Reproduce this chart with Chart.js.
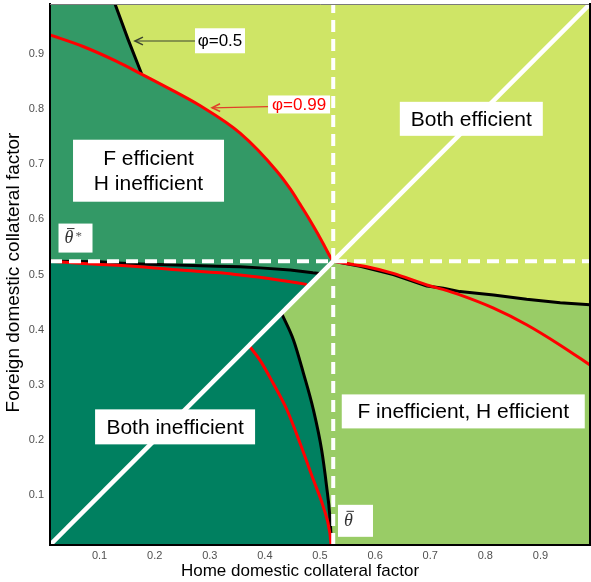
<!DOCTYPE html>
<html>
<head>
<meta charset="utf-8">
<script src="https://cdn.jsdelivr.net/npm/chart.js@4.4.0/dist/chart.umd.min.js"></script>
<style>
  html, body { margin: 0; padding: 0; background: #ffffff; }
  #wrap { width: 591px; height: 582px; }
</style>
</head>
<body>
<div id="wrap"><canvas id="chart" width="591" height="582"></canvas></div>
<script>
// Axis extent and the threshold collateral factor
const AXIS_MIN = 0.01;
const AXIS_MAX = 0.99;
const thetaBar = 0.524;

const xTickValues = [0.1, 0.2, 0.3, 0.4, 0.5, 0.6, 0.7, 0.8, 0.9];
const xTickLabels = ['0.1', '0.2', '0.3', '0.4', '0.5', '0.6', '0.7', '0.8', '0.9'];
const yTickValues = [0.1, 0.2, 0.3, 0.4, 0.5, 0.6, 0.7, 0.8, 0.9];
const yTickLabels = ['0.1', '0.2', '0.3', '0.4', '0.5', '0.6', '0.7', '0.8', '0.9'];

// Efficiency frontier for φ = 0.5  ([home, foreign] pairs)
const phi05Top = [[0.128, 0.99], [0.152, 0.925], [0.176, 0.864]];
const phi05Flat = [[0.01, 0.524], [0.10, 0.523], [0.132, 0.521], [0.173, 0.519], [0.24, 0.517],
  [0.313, 0.515], [0.355, 0.514], [0.391, 0.512], [0.446, 0.508], [0.487, 0.503], [0.50, 0.502]];
const phi05Steep = [[0.43, 0.43], [0.452, 0.381], [0.47, 0.321], [0.488, 0.255], [0.503, 0.182],
  [0.512, 0.116], [0.518, 0.061], [0.521, 0.01]];
const phi05Right = [[0.524, 0.524], [0.573, 0.515], [0.633, 0.5], [0.694, 0.479], [0.724, 0.475],
  [0.754, 0.469], [0.815, 0.463], [0.875, 0.455], [0.936, 0.449], [0.99, 0.445]];

// Efficiency frontier for φ = 0.99
const phi99Upper = [[0.01, 0.934], [0.07, 0.913], [0.131, 0.886], [0.176, 0.863], [0.222, 0.839],
  [0.282, 0.806], [0.355, 0.756], [0.421, 0.688], [0.446, 0.655], [0.464, 0.627], [0.482, 0.598],
  [0.497, 0.572], [0.51, 0.548], [0.518, 0.533], [0.524, 0.524]];
const phi99Flat = [[0.01, 0.524], [0.07, 0.52], [0.173, 0.514], [0.246, 0.508], [0.319, 0.503],
  [0.355, 0.499], [0.397, 0.494], [0.458, 0.485], [0.476, 0.482]];
const phi99Steep = [[0.372, 0.37], [0.391, 0.345], [0.415, 0.303], [0.44, 0.255], [0.464, 0.194],
  [0.488, 0.128], [0.506, 0.079], [0.518, 0.031], [0.52, 0.01]];
const phi99Right = [[0.524, 0.524], [0.548, 0.52], [0.585, 0.514], [0.633, 0.502], [0.694, 0.481],
  [0.723, 0.473], [0.754, 0.463], [0.815, 0.439], [0.875, 0.409], [0.936, 0.372], [0.99, 0.336]];

// Region outlines assembled from the φ = 0.5 frontier
const rev = a => a.slice().reverse();
const frontierUpper = phi05Top.concat(phi99Upper.filter(p => p[0] > 0.18));
const regionHEfficient = [[AXIS_MIN, AXIS_MIN], [AXIS_MAX, AXIS_MIN], [AXIS_MAX, AXIS_MAX], [AXIS_MIN, AXIS_MAX]];
const regionBothEfficient = [[AXIS_MAX, AXIS_MAX], [AXIS_MAX, phi05Right[phi05Right.length - 1][1]]]
  .concat(rev(phi05Right), rev(frontierUpper));
const regionFEfficient = [[AXIS_MIN, AXIS_MAX]].concat(frontierUpper, rev(phi05Flat));
const regionBothInefficient = [[AXIS_MIN, AXIS_MIN]].concat(rev(phi05Steep), rev(phi05Flat));

const toXY = pts => pts.map(p => ({ x: p[0], y: p[1] }));

function region(points, color, order) {
  return {
    data: toXY(points), showLine: true, fill: 'shape', backgroundColor: color,
    borderColor: 'rgba(0,0,0,0)', borderWidth: 0, pointRadius: 0, tension: 0, order: order
  };
}
function curve(points, color, width, order, dash, smooth) {
  return {
    data: toXY(points), showLine: true, fill: false, borderColor: color, borderWidth: width,
    borderDash: dash || [], borderJoinStyle: 'round', pointRadius: 0,
    cubicInterpolationMode: smooth ? 'monotone' : 'default', tension: 0, order: order
  };
}

const datasets = [
  curve([[AXIS_MIN, AXIS_MIN], [AXIS_MAX, AXIS_MAX]], '#ffffff', 4.5, 0),
  curve([[thetaBar, AXIS_MIN], [thetaBar, AXIS_MAX]], '#ffffff', 4, 1, [12, 7]),
  curve([[AXIS_MIN, thetaBar], [AXIS_MAX, thetaBar]], '#ffffff', 4, 2, [12, 7]),
  curve(phi99Upper, '#ff0000', 3, 3, null, true),
  curve(phi99Flat, '#ff0000', 3, 3, null, true),
  curve(phi99Steep, '#ff0000', 3, 3, null, true),
  curve(phi99Right, '#ff0000', 3, 3, null, true),
  curve(phi05Top, '#000000', 3, 4),
  curve(phi05Flat, '#000000', 3, 4),
  curve(phi05Steep, '#000000', 3, 4, null, true),
  curve(phi05Right, '#000000', 3, 4),
  region(regionBothInefficient, '#008060', 5),
  region(regionFEfficient, '#339966', 6),
  region(regionBothEfficient, '#cfe566', 7),
  region(regionHEfficient, '#99cc66', 8)
];

// Text boxes placed in data coordinates
const SANS = '"Liberation Sans", Arial, sans-serif';
const regionLabels = [
  { lines: ['Both efficient'], x: 0.7746, y: 0.782, w: 143, h: 34 },
  { lines: ['F efficient', 'H inefficient'], x: 0.1888, y: 0.688, w: 151, h: 62 },
  { lines: ['Both inefficient'], x: 0.237, y: 0.224, w: 160, h: 35 },
  { lines: ['F inefficient, H efficient'], x: 0.76, y: 0.252, w: 243, h: 34 }
];
const curveLabels = [
  { text: 'φ=0.5', color: '#000000', x: 0.3185, y: 0.9234, w: 50, h: 25,
    tail: [0.2735, 0.923], tip: [0.164, 0.923], arrow: '#3c4430' },
  { text: 'φ=0.99', color: '#ff0000', x: 0.462, y: 0.808, w: 62, h: 18,
    tail: [0.406, 0.804], tip: [0.304, 0.802], arrow: '#e0402a' }
];
const thetaLabels = [
  { sup: '*', x: 0.0563, y: 0.566, w: 34, h: 29 },
  { sup: '', x: 0.5644, y: 0.0538, w: 35, h: 32 }
];

const annotationPlugin = {
  id: 'boxLabels',
  afterDatasetsDraw(chart) {
    const { ctx, scales: { x, y } } = chart;
    ctx.save();
    // arrows from curve labels
    curveLabels.forEach(l => {
      const tx = x.getPixelForValue(l.tail[0]), ty = y.getPixelForValue(l.tail[1]);
      const hx = x.getPixelForValue(l.tip[0]), hy = y.getPixelForValue(l.tip[1]);
      ctx.strokeStyle = l.arrow;
      ctx.lineWidth = 1.2;
      ctx.beginPath(); ctx.moveTo(tx, ty); ctx.lineTo(hx, hy); ctx.stroke();
      const ang = Math.atan2(ty - hy, tx - hx);
      ctx.lineWidth = 1.5;
      ctx.beginPath();
      ctx.moveTo(hx + 9 * Math.cos(ang + 0.45), hy + 9 * Math.sin(ang + 0.45));
      ctx.lineTo(hx, hy);
      ctx.lineTo(hx + 9 * Math.cos(ang - 0.45), hy + 9 * Math.sin(ang - 0.45));
      ctx.stroke();
    });
    ctx.textAlign = 'center';
    ctx.textBaseline = 'middle';
    curveLabels.forEach(l => {
      const cx = x.getPixelForValue(l.x), cy = y.getPixelForValue(l.y);
      ctx.fillStyle = '#ffffff';
      ctx.fillRect(cx - l.w / 2, cy - l.h / 2, l.w, l.h);
      ctx.fillStyle = l.color;
      ctx.font = '17px ' + SANS;
      ctx.fillText(l.text, cx, cy + 1);
    });
    regionLabels.forEach(l => {
      const cx = x.getPixelForValue(l.x), cy = y.getPixelForValue(l.y);
      ctx.fillStyle = '#ffffff';
      ctx.fillRect(cx - l.w / 2, cy - l.h / 2, l.w, l.h);
      ctx.fillStyle = '#000000';
      ctx.font = '21px ' + SANS;
      const lh = 25;
      l.lines.forEach((t, i) => {
        ctx.fillText(t, cx, cy + 1 + (i - (l.lines.length - 1) / 2) * lh);
      });
    });
    thetaLabels.forEach(l => {
      const cx = x.getPixelForValue(l.x), cy = y.getPixelForValue(l.y);
      const left = cx - l.w / 2, top = cy - l.h / 2;
      ctx.fillStyle = '#ffffff';
      ctx.fillRect(left, top, l.w, l.h);
      ctx.fillStyle = '#333333';
      ctx.strokeStyle = '#333333';
      ctx.textAlign = 'left';
      ctx.textBaseline = 'alphabetic';
      ctx.font = 'italic 18px "Liberation Serif", "DejaVu Serif", serif';
      const gx = left + 6, base = cy + 5;
      ctx.fillText('θ', gx, base);
      ctx.lineWidth = 1;
      ctx.beginPath(); ctx.moveTo(gx + 2.5, base - 14.5); ctx.lineTo(gx + 10, base - 14.5); ctx.stroke();
      if (l.sup) {
        ctx.fillStyle = '#555555';
        ctx.font = '13px "Liberation Serif", serif';
        ctx.fillText(l.sup, gx + 11, base - 3);
      }
      ctx.textAlign = 'center';
      ctx.textBaseline = 'middle';
    });
    ctx.restore();
  },
  afterDraw(chart) {
    const { ctx, chartArea } = chart;
    ctx.save();
    ctx.fillStyle = '#000000';
    ctx.textAlign = 'center';
    ctx.textBaseline = 'middle';
    ctx.font = '17px ' + SANS;
    ctx.fillText('Home domestic collateral factor', 300, 571);
    ctx.translate(14, (chartArea.top + chartArea.bottom) / 2 - 2);
    ctx.rotate(-Math.PI / 2);
    ctx.font = '19px ' + SANS;
    ctx.fillText('Foreign domestic collateral factor', 0, 0);
    ctx.restore();
  }
};

const tickFont = { family: SANS, size: 11 };
const noOverhang = s => { s.paddingTop = 0; s.paddingBottom = 0; s.paddingLeft = 0; s.paddingRight = 0; };

new Chart(document.getElementById('chart'), {
  type: 'scatter',
  data: { datasets: datasets },
  options: {
    responsive: false,
    animation: false,
    events: [],
    devicePixelRatio: 1,
    layout: { padding: { top: 4, right: 1, left: 0, bottom: 0 } },
    plugins: { legend: { display: false }, tooltip: { enabled: false } },
    scales: {
      x: {
        type: 'linear', position: 'bottom', min: AXIS_MIN, max: AXIS_MAX,
        afterBuildTicks: s => { s.ticks = xTickValues.map(v => ({ value: v })); },
        afterFit: s => { s.height = 37; noOverhang(s); },
        ticks: { font: tickFont, color: '#505050', padding: 4, maxRotation: 0, autoSkip: false,
          callback: v => xTickLabels[xTickValues.indexOf(v)] },
        grid: { display: false, drawTicks: false },
        border: { display: true, color: '#000000', width: 2, z: 1 }
      },
      y: {
        type: 'linear', position: 'left', min: AXIS_MIN, max: AXIS_MAX,
        afterBuildTicks: s => { s.ticks = yTickValues.map(v => ({ value: v })); },
        afterFit: s => { s.width = 50; noOverhang(s); },
        ticks: { font: tickFont, color: '#505050', padding: 6, autoSkip: false,
          callback: v => yTickLabels[yTickValues.indexOf(v)] },
        grid: { display: false, drawTicks: false },
        border: { display: true, color: '#000000', width: 2, z: 1 }
      },
      xTop: {
        type: 'linear', position: 'top', min: AXIS_MIN, max: AXIS_MAX,
        afterFit: s => { s.height = 0; noOverhang(s); },
        ticks: { display: false }, grid: { display: false, drawTicks: false },
        border: { display: true, color: '#7a7a7a', width: 1, z: 1 }
      },
      yRight: {
        type: 'linear', position: 'right', min: AXIS_MIN, max: AXIS_MAX,
        afterFit: s => { s.width = 0; noOverhang(s); },
        ticks: { display: false }, grid: { display: false, drawTicks: false },
        border: { display: true, color: '#000000', width: 2, z: 1 }
      }
    }
  },
  plugins: [annotationPlugin]
});
</script>
</body>
</html>
